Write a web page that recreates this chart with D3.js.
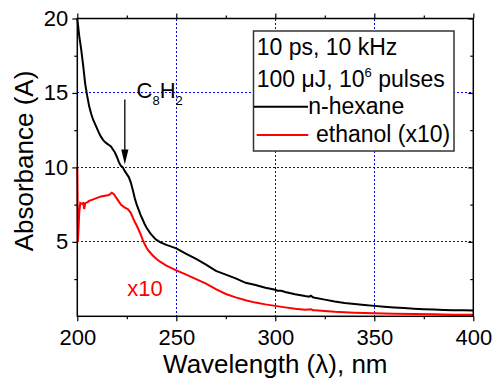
<!DOCTYPE html>
<html>
<head>
<meta charset="utf-8">
<script src="https://cdn.jsdelivr.net/npm/d3@7"></script>
<style>
  body { margin: 0; background: #fff; }
  svg { display: block; font-family: "Liberation Sans", Arial, sans-serif; }
  .axis path, .axis line { stroke: #000; stroke-width: 1.2; }
  .grid line { stroke: #0000ff; stroke-width: 1; stroke-dasharray: 2,2; shape-rendering: crispEdges; }
</style>
</head>
<body>
<div id="chart"></div>
<script>
// n-hexane absorbance (wavelength nm, A)
const hexaneWl = [200, 201, 202, 203, 204, 205, 206, 207, 208, 209, 210, 211, 212, 213, 214, 215, 216, 217, 218, 219,
  220, 221, 222, 223, 224, 225, 226, 227, 228, 229, 230, 231, 232, 233, 234, 235, 236, 237, 238, 239,
  240, 242, 245, 250, 255, 260, 265, 270, 275, 280, 285, 290, 295, 300, 301, 303, 305, 310, 315, 317,
  318, 319, 320, 325, 330, 335, 340, 345, 350, 355, 360, 365, 370, 375, 380, 385, 390, 395, 400];
const hexaneA = [20, 18.8, 17.9, 16.8, 15.6, 14.8, 14.1, 13.6, 13.2, 12.9, 12.6, 12.3, 12.05, 11.85, 11.7, 11.6, 11.5, 11.4, 11.2, 11.0,
  10.7, 10.35, 10.1, 10.0, 9.75, 9.55, 9.35, 9.0, 8.5, 7.95, 7.5, 7.15, 6.8, 6.5, 6.2, 5.95, 5.75, 5.55, 5.4, 5.25,
  5.13, 4.97, 4.8, 4.56, 4.2, 3.85, 3.47, 3.05, 2.8, 2.55, 2.25, 2.1, 1.92, 1.78, 1.72, 1.72, 1.63, 1.48, 1.36, 1.32,
  1.38, 1.28, 1.25, 1.12, 1.0, 0.9, 0.83, 0.76, 0.7, 0.64, 0.59, 0.55, 0.51, 0.48, 0.45, 0.43, 0.41, 0.4, 0.39];

// ethanol absorbance x10
const ethanolWl = [200, 200.3, 201, 201.5, 202, 203, 203.5, 204, 205, 206, 208, 210, 212, 214, 216, 217.4, 218.5, 219.5, 220.5, 222,
  224, 225.5, 227, 228, 229, 230, 231, 232, 233, 234, 235, 236, 237, 238, 240, 242, 245, 250, 255, 260,
  265, 270, 275, 280, 285, 290, 295, 300, 305, 310, 315, 318, 319, 320, 325, 330, 335, 340, 345, 350,
  360, 370, 380, 390, 400];
const ethanolA = [10, 5, 7.0, 7.6, 7.55, 7.6, 7.2, 7.6, 7.65, 7.75, 7.85, 7.95, 8.05, 8.1, 8.15, 8.3, 8.2, 8.0, 7.8, 7.5,
  7.3, 7.2, 6.95, 6.65, 6.35, 6.1, 5.8, 5.5, 5.15, 4.85, 4.6, 4.4, 4.25, 4.1, 3.85, 3.65, 3.4, 3.08, 2.8, 2.5,
  2.2, 1.82, 1.5, 1.27, 1.08, 0.92, 0.8, 0.7, 0.6, 0.5, 0.44, 0.48, 0.41, 0.4, 0.35, 0.3, 0.27, 0.24, 0.22, 0.2,
  0.17, 0.15, 0.13, 0.11, 0.1];

const xTicks = [200, 250, 300, 350, 400];
const xMinor = [225, 275, 325, 375];
const yTicks = [5, 10, 15, 20];
const yMinor = [2.5, 7.5, 12.5, 17.5];
const xGrid = [250, 300, 350];
const yGrid = [5, 10, 15];

const W = 492, H = 381;
const pLeft = 77.3, pRight = 473.3, pTop = 18.5, pBottom = 316.3;

const svg = d3.select("#chart").append("svg")
    .attr("width", W)
    .attr("height", H);

const x = d3.scaleLinear().domain([200, 400]).range([pLeft, pRight]);
const y = d3.scaleLinear().domain([0, 20]).range([pBottom, pTop]);

// grid
const grid = svg.append("g").attr("class", "grid");
grid.selectAll("line.v").data(xGrid).enter().append("line")
    .attr("x1", d => x(d)).attr("x2", d => x(d))
    .attr("y1", pTop).attr("y2", pBottom);
grid.selectAll("line.h").data(yGrid).enter().append("line")
    .attr("x1", pLeft).attr("x2", pRight)
    .attr("y1", d => y(d)).attr("y2", d => y(d));

// curves
const hexane = hexaneWl.map((w, i) => ({ w: w, a: hexaneA[i] }));
const ethanol = ethanolWl.map((w, i) => ({ w: w, a: ethanolA[i] }));
const line = d3.line().x(d => x(d.w)).y(d => y(d.a));

svg.append("path").datum(ethanol)
    .attr("d", line).attr("fill", "none")
    .attr("stroke", "#ff0000").attr("stroke-width", 2);
svg.append("path").datum(hexane)
    .attr("d", line).attr("fill", "none")
    .attr("stroke", "#000").attr("stroke-width", 2);

// axes (major with labels, minor without)
function axis(gen, scale, ticks, size, pad, labels, tx) {
    const g = svg.append("g").attr("class", "axis").attr("transform", tx)
        .call(gen(scale).tickValues(ticks).tickSize(size).tickPadding(pad)
            .tickFormat(labels ? d3.format("d") : ""));
    g.select(".domain").remove();
    g.selectAll("text").attr("font-size", 22).attr("fill", "#000")
        .attr("font-family", "'Liberation Sans', Arial, sans-serif");
    return g;
}
axis(d3.axisBottom, x, xTicks, 5, 8, true, `translate(0,${pBottom})`);
axis(d3.axisBottom, x, xMinor, 3, 0, false, `translate(0,${pBottom})`);
axis(d3.axisLeft, y, yTicks, 5, 4, true, `translate(${pLeft},0)`);
axis(d3.axisLeft, y, yMinor, 3, 0, false, `translate(${pLeft},0)`);
axis(d3.axisTop, x, xTicks, 5, 0, false, `translate(0,${pTop})`);
axis(d3.axisTop, x, xMinor, 3, 0, false, `translate(0,${pTop})`);
axis(d3.axisLeft, y, yTicks, 5, 0, false, `translate(${pRight},0)`);
axis(d3.axisLeft, y, yMinor, 3, 0, false, `translate(${pRight},0)`);

// frame
svg.append("rect")
    .attr("x", pLeft).attr("y", pTop)
    .attr("width", pRight - pLeft).attr("height", pBottom - pTop)
    .attr("fill", "none").attr("stroke", "#000").attr("stroke-width", 1.5);

// axis titles
svg.append("text")
    .attr("x", (pLeft + pRight) / 2).attr("y", 373)
    .attr("text-anchor", "middle").attr("font-size", 26)
    .text("Wavelength (\u03bb), nm");
svg.append("text")
    .attr("transform", "translate(33,161) rotate(-90)")
    .attr("text-anchor", "middle").attr("font-size", 26)
    .text("Absorbance (A)");

// annotation C8H2 with arrow
const ann = svg.append("text").attr("x", 136.5).attr("y", 98.3).attr("font-size", 22);
ann.append("tspan").text("C");
ann.append("tspan").attr("font-size", 13).attr("dy", 7).text("8");
ann.append("tspan").attr("dy", -7).text("H");
ann.append("tspan").attr("font-size", 13).attr("dy", 7).text("2");

const ax = x(224), ay = y(10.2);
svg.append("line")
    .attr("x1", ax).attr("x2", ax).attr("y1", 99.5).attr("y2", ay - 12)
    .attr("stroke", "#000").attr("stroke-width", 1.3);
svg.append("path")
    .attr("d", `M${ax - 3.6},${ay - 15}L${ax + 3.6},${ay - 15}L${ax},${ay}Z`)
    .attr("fill", "#000");

svg.append("text")
    .attr("x", 127.3).attr("y", 296)
    .attr("font-size", 22).attr("fill", "#ff0000")
    .text("x10");

// legend
const lg = svg.append("g");
lg.append("rect")
    .attr("x", 253.5).attr("y", 31).attr("width", 200.5).attr("height", 120)
    .attr("fill", "#fff").attr("stroke", "#333").attr("stroke-width", 1.5);
lg.append("text").attr("x", 256.7).attr("y", 55).attr("font-size", 23).text("10 ps, 10 kHz");
const l2 = lg.append("text").attr("x", 256.7).attr("y", 86.5).attr("font-size", 23);
l2.append("tspan").text("100 \u03bcJ, 10");
l2.append("tspan").attr("font-size", 13).attr("dy", -10).text("6");
l2.append("tspan").attr("dy", 10).text(" pulses");
lg.append("line").attr("x1", 254).attr("x2", 308).attr("y1", 106.7).attr("y2", 106.7)
    .attr("stroke", "#000").attr("stroke-width", 2);
lg.append("text").attr("x", 308.3).attr("y", 113.5).attr("font-size", 23).text("n-hexane");
lg.append("line").attr("x1", 256.7).attr("x2", 308.3).attr("y1", 135).attr("y2", 135)
    .attr("stroke", "#ff0000").attr("stroke-width", 2);
lg.append("text").attr("x", 316).attr("y", 141.5).attr("font-size", 23).text("ethanol (x10)");
</script>
</body>
</html>
